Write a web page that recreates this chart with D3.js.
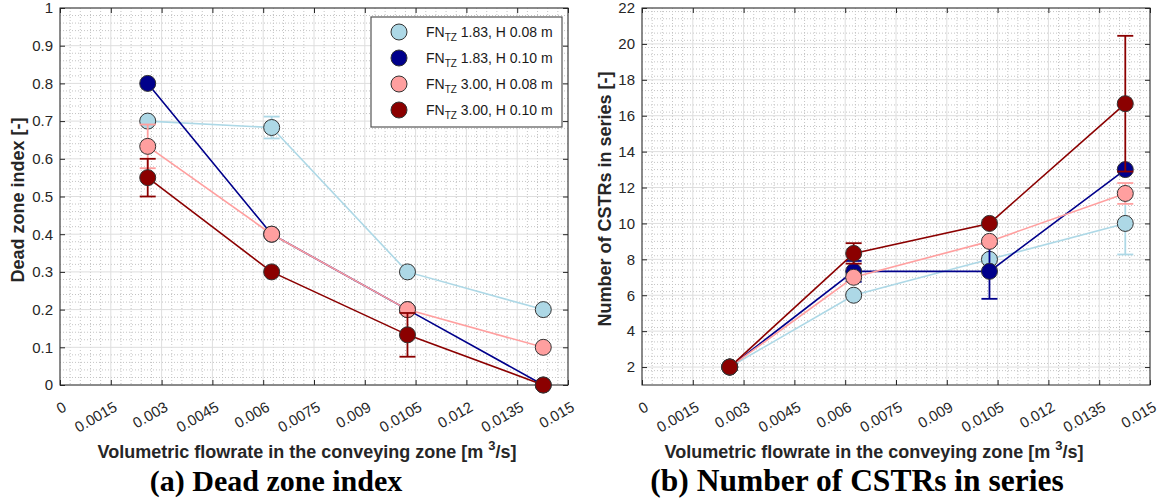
<!DOCTYPE html>
<html>
<head>
<meta charset="utf-8">
<script src="https://cdn.jsdelivr.net/npm/d3@7"></script>
<style>
body { margin: 0; background: white; }
svg { display: block; }
</style>
</head>
<body>
<svg id="chart"></svg>
<script>
var w = 1158
var h = 500

// x positions of the four flowrates (m3/s)
var flowrate = [0.00259, 0.00625, 0.01026, 0.01427]

var seriesNames = ["1.83, H 0.08 m", "1.83, H 0.10 m", "3.00, H 0.08 m", "3.00, H 0.10 m"]
var seriesColors = ["#add8e6", "#00008b", "#ff9f9f", "#8b0000"]

// (a) dead zone index
var dzi_183_008 = [0.700, 0.683, 0.300, 0.200]
var dzi_183_010 = [0.800, 0.400, 0.200, 0.000]
var dzi_300_008 = [0.633, 0.400, 0.200, 0.100]
var dzi_300_010 = [0.550, 0.300, 0.133, 0.000]
var dziErr_183_008 = [0, 0.029, 0, 0]
var dziErr_183_010 = [0, 0, 0, 0]
var dziErr_300_008 = [0.058, 0, 0, 0]
var dziErr_300_010 = [0.050, 0, 0.058, 0]

// (b) number of CSTRs
var n_183_008 = [2, 6, 8, 10]
var n_183_010 = [2, 7.33, 7.33, 13]
var n_300_008 = [2, 7, 9, 11.67]
var n_300_010 = [2, 8.33, 10, 16.67]
var nErr_183_008 = [0, 0, 0, 1.73]
var nErr_183_010 = [0, 0.58, 1.53, 0]
var nErr_300_008 = [0, 0, 0, 0.58]
var nErr_300_010 = [0, 0.57, 0, 3.78]

var xTicks = [0, 0.0015, 0.003, 0.0045, 0.006, 0.0075, 0.009, 0.0105, 0.012, 0.0135, 0.015]
var xTickLabels = ["0", "0.0015", "0.003", "0.0045", "0.006", "0.0075", "0.009", "0.0105", "0.012", "0.0135", "0.015"]
var dziTicks = [0, 0.1, 0.2, 0.3, 0.4, 0.5, 0.6, 0.7, 0.8, 0.9, 1]
var dziTickLabels = ["0", "0.1", "0.2", "0.3", "0.4", "0.5", "0.6", "0.7", "0.8", "0.9", "1"]
var nTicks = [2, 4, 6, 8, 10, 12, 14, 16, 18, 20, 22]
var nTickLabels = ["2", "4", "6", "8", "10", "12", "14", "16", "18", "20", "22"]

var textCol = "#262626"
var sansFont = "'Liberation Sans', Arial, sans-serif"
var serifFont = "'Liberation Serif', 'Times New Roman', serif"

var svg = d3.select("#chart")
	.attr("width", w)
	.attr("height", h)
	.style("background-color", "white")

function makeSeries(vals, errs){
	var out = []
	for (var i = 0; i < vals.length; i++) {
		out.push({x: flowrate[i], y: vals[i], e: errs[i]})
	}
	return out
}

function drawPanel(opt){
	var x = d3.scaleLinear().domain([0, 0.015]).range([opt.left, opt.right])
	var y = d3.scaleLinear().domain(opt.yDomain).range([opt.bottom, opt.top])
	var g = svg.append("g")

	// minor grid (dotted), 5 steps between majors
	var xMinor = []
	for (var i = 0; i < xTicks.length - 1; i++) {
		for (var k = 1; k < 5; k++) xMinor.push(xTicks[i] + k * 0.0003)
	}
	var yMinor = []
	var step = opt.yTicks[1] - opt.yTicks[0]
	for (var v = opt.yDomain[0]; v < opt.yDomain[1] - 1e-9; v += step / 5) {
		var r = Math.round(v * 1000) / 1000
		if (opt.yTicks.indexOf(r) < 0 && r > opt.yDomain[0]) yMinor.push(r)
	}

	g.selectAll(".xminor").data(xMinor).join("line")
		.attr("x1", d => x(d)).attr("x2", d => x(d))
		.attr("y1", opt.top).attr("y2", opt.bottom)
		.attr("stroke", "#c4c4c4").attr("stroke-width", 1)
		.attr("stroke-dasharray", "1,2")
	g.selectAll(".yminor").data(yMinor).join("line")
		.attr("x1", opt.left).attr("x2", opt.right)
		.attr("y1", d => y(d)).attr("y2", d => y(d))
		.attr("stroke", "#c4c4c4").attr("stroke-width", 1)
		.attr("stroke-dasharray", "1,2")

	// major grid
	g.selectAll(".xmajor").data(xTicks).join("line")
		.attr("x1", d => x(d)).attr("x2", d => x(d))
		.attr("y1", opt.top).attr("y2", opt.bottom)
		.attr("stroke", "#dedede").attr("stroke-width", 1)
	g.selectAll(".ymajor").data(opt.yTicks).join("line")
		.attr("x1", opt.left).attr("x2", opt.right)
		.attr("y1", d => y(d)).attr("y2", d => y(d))
		.attr("stroke", "#dedede").attr("stroke-width", 1)

	// axes, ticks pointing inward
	var xAxis = g.append("g")
		.attr("transform", "translate(0," + opt.bottom + ")")
		.call(d3.axisBottom(x).tickValues(xTicks).tickSize(-5).tickSizeOuter(0)
			.tickFormat((d, i) => xTickLabels[i]))
	xAxis.selectAll("text")
		.attr("y", 0).attr("dy", 0)
		.attr("text-anchor", "end")
		.attr("transform", "translate(7,25) rotate(-30)")

	g.append("g")
		.attr("transform", "translate(" + opt.left + ",0)")
		.call(d3.axisLeft(y).tickValues(opt.yTicks).tickSize(-5).tickSizeOuter(0).tickPadding(7)
			.tickFormat((d, i) => opt.yTickLabels[i]))

	g.append("g")
		.attr("transform", "translate(0," + opt.top + ")")
		.call(d3.axisTop(x).tickValues(xTicks).tickSize(-5).tickSizeOuter(0).tickFormat(""))
	g.append("g")
		.attr("transform", "translate(" + opt.right + ",0)")
		.call(d3.axisRight(y).tickValues(opt.yTicks).tickSize(-5).tickSizeOuter(0).tickFormat(""))

	g.selectAll(".domain").remove()
	g.selectAll(".tick line").attr("stroke", textCol)
	g.selectAll(".tick text")
		.style("font-family", sansFont)
		.style("font-size", "15px")
		.attr("fill", textCol)

	g.append("rect")
		.attr("x", opt.left).attr("y", opt.top)
		.attr("width", opt.right - opt.left).attr("height", opt.bottom - opt.top)
		.attr("fill", "none").attr("stroke", textCol).attr("stroke-width", 1)

	// series: line, error bars, markers
	var line = d3.line().x(d => x(d.x)).y(d => y(d.y))
	opt.series.forEach(function(s, si){
		var col = seriesColors[si]
		var sg = g.append("g")
		sg.append("path")
			.attr("d", line(s))
			.attr("fill", "none")
			.attr("stroke", col)
			.attr("stroke-width", 1.6)

		var withErr = s.filter(d => d.e > 0)
		sg.selectAll(".ebar").data(withErr).join("line")
			.attr("x1", d => x(d.x)).attr("x2", d => x(d.x))
			.attr("y1", d => y(d.y - d.e)).attr("y2", d => y(d.y + d.e))
			.attr("stroke", col).attr("stroke-width", 1.8)
		sg.selectAll(".ecapLo").data(withErr).join("line")
			.attr("x1", d => x(d.x) - 8).attr("x2", d => x(d.x) + 8)
			.attr("y1", d => y(d.y - d.e)).attr("y2", d => y(d.y - d.e))
			.attr("stroke", col).attr("stroke-width", 1.8)
		sg.selectAll(".ecapHi").data(withErr).join("line")
			.attr("x1", d => x(d.x) - 8).attr("x2", d => x(d.x) + 8)
			.attr("y1", d => y(d.y + d.e)).attr("y2", d => y(d.y + d.e))
			.attr("stroke", col).attr("stroke-width", 1.8)

		sg.selectAll("circle").data(s).join("circle")
			.attr("cx", d => x(d.x))
			.attr("cy", d => y(d.y))
			.attr("r", 8)
			.attr("fill", col)
			.attr("stroke", "#333333")
			.attr("stroke-width", 1)
	})

	// axis labels
	svg.append("text")
		.attr("transform", "translate(" + opt.yLabelX + "," + opt.yLabelY + ") rotate(-90)")
		.attr("text-anchor", "middle")
		.style("font-family", sansFont).style("font-size", "18px").style("font-weight", "bold")
		.attr("fill", textCol)
		.text(opt.yLabel)

	var xl = svg.append("text")
		.attr("x", opt.xLabelX).attr("y", 458)
		.attr("text-anchor", "middle")
		.style("font-family", sansFont).style("font-size", "18px").style("font-weight", "bold")
		.attr("fill", textCol)
	xl.append("tspan").text("Volumetric flowrate in the conveying zone [m ")
	xl.append("tspan").attr("dy", -8).style("font-size", "13px").text("3")
	xl.append("tspan").attr("dy", 8).text("/s]")

	svg.append("text")
		.attr("x", opt.titleX).attr("y", 491)
		.attr("text-anchor", "middle")
		.style("font-family", serifFont).style("font-size", opt.titleSize).style("font-weight", "bold")
		.attr("fill", "black")
		.text(opt.title)

	return {x: x, y: y}
}

drawPanel({
	left: 60, right: 568, top: 8, bottom: 385,
	yDomain: [0, 1], yTicks: dziTicks, yTickLabels: dziTickLabels,
	yLabel: "Dead zone index [-]", yLabelX: 24, yLabelY: 200,
	xLabelX: 307, titleX: 276, titleSize: "30px",
	title: "(a) Dead zone index",
	series: [
		makeSeries(dzi_183_008, dziErr_183_008),
		makeSeries(dzi_183_010, dziErr_183_010),
		makeSeries(dzi_300_008, dziErr_300_008),
		makeSeries(dzi_300_010, dziErr_300_010)
	]
})

drawPanel({
	left: 642, right: 1150, top: 8, bottom: 385,
	yDomain: [1, 22], yTicks: nTicks, yTickLabels: nTickLabels,
	yLabel: "Number of CSTRs in series [-]", yLabelX: 611, yLabelY: 199,
	xLabelX: 874, titleX: 857, titleSize: "31.5px",
	title: "(b) Number of CSTRs in series",
	series: [
		makeSeries(n_183_008, nErr_183_008),
		makeSeries(n_183_010, nErr_183_010),
		makeSeries(n_300_008, nErr_300_008),
		makeSeries(n_300_010, nErr_300_010)
	]
})

// legend, only in panel (a)
var leg = svg.append("g")
leg.append("rect")
	.attr("x", 371).attr("y", 17)
	.attr("width", 191).attr("height", 110)
	.attr("fill", "white")
	.attr("stroke", "#555555").attr("stroke-width", 1.2)

seriesNames.forEach(function(name, i){
	var yy = 32 + i * 26
	leg.append("circle")
		.attr("cx", 399).attr("cy", yy).attr("r", 8)
		.attr("fill", seriesColors[i])
		.attr("stroke", "#333333").attr("stroke-width", 1)
	var t = leg.append("text")
		.attr("x", 426).attr("y", yy + 5)
		.style("font-family", sansFont).style("font-size", "14px")
		.attr("fill", "#1a1a1a")
	t.append("tspan").text("FN")
	t.append("tspan").attr("dy", 4).style("font-size", "10px").text("TZ")
	t.append("tspan").attr("dy", -4).text(" " + name)
})
</script>
</body>
</html>
